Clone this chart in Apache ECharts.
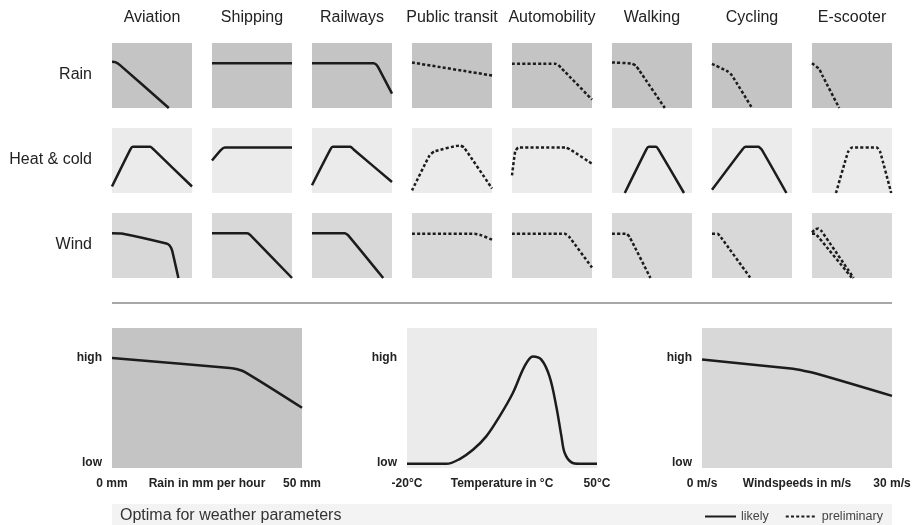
<!DOCTYPE html>
<html>
<head>
<meta charset="utf-8">
<script src="https://cdn.jsdelivr.net/npm/echarts@6/dist/echarts.min.js"></script>
<style>html,body{margin:0;padding:0;background:#fff}#c{width:915px;height:525px}</style>
</head>
<body>
<div id="c"></div>
<script>
// ---------- DATA ----------
const modes = ['Aviation','Shipping','Railways','Public transit','Automobility','Walking','Cycling','E-scooter'];
const parameters = ['Rain','Heat & cold','Wind'];

// certainty per mode, per weather parameter
const rainCertainty = ['likely','likely','likely','preliminary','preliminary','preliminary','preliminary','preliminary'];
const heatCertainty = ['likely','likely','likely','preliminary','preliminary','likely','likely','preliminary'];
const windCertainty = ['likely','likely','likely','preliminary','preliminary','preliminary','preliminary','preliminary'];

// relative suitability curves (x: 0..100 of parameter range, y: 0 low .. 100 high)
const rainCurves = [
  [[[0,71],[4,70.5],[10,66],[71,0]]],
  [[[0,69],[100,69]]],
  [[[0,69],[77,69],[80,67],[83,62],[100,22]]],
  [[[0,70],[100,50]]],
  [[[0,68],[54,68],[58,66],[62,61],[100,13]]],
  [[[0,70],[24,68.5],[30,65],[34,58],[66,0]]],
  [[[0,68],[20,56],[25,50],[50,0]]],
  [[[0,69],[9,60],[13,50],[34,0]]]
];
const heatCurves = [
  [[[0,10],[23,67],[26,71],[48,71],[52,67],[100,10]]],
  [[[0,50],[11,66],[16,70],[100,70]]],
  [[[0,12],[23,67],[26,71],[48,71],[52,67],[100,17]]],
  [[[0,4],[22,58],[28,64],[60,73],[65,70],[100,7]]],
  [[[0,27],[4,64],[8,70],[67,70],[74,66],[100,45]]],
  [[[16,0],[43,67],[46,71],[55,71],[58,67],[90,0]]],
  [[[0,5],[38,67],[42,71],[58,71],[62,67],[93,0]]],
  [[[30,0],[45,63],[50,70],[81,70],[85,64],[99,0]]]
];
const windCurves = [
  [[[0,69],[12,68.5],[68,53],[72,50],[75,43],[83,0]]],
  [[[0,69],[44,69],[48,66],[100,0]]],
  [[[0,69],[41,69],[45,66],[89,0]]],
  [[[0,68],[78,68],[86,66],[100,59]]],
  [[[0,68],[66,68],[71,64],[100,16]]],
  [[[0,68],[18,68],[22,63],[48,0]]],
  [[[0,68],[7,68],[11,63],[48,0]]],
  [[[0,68],[4,68],[8,63],[50,0]], [[0,70],[4,75],[8,76],[12,72],[52,0]]]
];

// optima curves (bottom panels)
const rainOptimum = [[0,78.5],[31,71.5],[33,70.5],[35,68.5],[50,43]];
const tempOptimum = [[-20,3],[-5.5,3],[-0.6,6.4],[4.3,13],[9.2,22.6],[14.1,36.9],[19,53.6],[23.3,72.6],[26.4,79.7],[29.5,77.4],[32.5,65.4],[35,44],[36.9,22.6],[38.1,10.7],[40.6,4],[43.6,3],[50,3]];
const windOptimum = [[0,77.5],[14,71],[16,69.5],[18,67.5],[30,51.5]];

const rainTickValues = [0,25,50];
const rainTickLabels = ['0 mm','Rain in mm per hour','50 mm'];
const tempTickValues = [-20,15,50];
const tempTickLabels = ['-20°C','Temperature in °C','50°C'];
const windTickValues = [0,15,30];
const windTickLabels = ['0 m/s','Windspeeds in m/s','30 m/s'];
const levelValues = [4,79];
const levelLabels = ['low','high'];

const footerTitle = 'Optima for weather parameters';
const legendItems = ['likely','preliminary'];

// ---------- STYLE / LAYOUT ----------
const FONT = '"Liberation Sans", Arial, Helvetica, sans-serif';
const rowColors = ['#c4c4c4','#ebebeb','#d8d8d8'];
const lineColor = '#1c1c1c';
const styleFor = c => c === 'likely'
  ? {color: lineColor, width: 2.5, type: 'solid'}
  : {color: lineColor, width: 2.5, type: [3, 2.2]};

const grids = [], xAxes = [], yAxes = [], series = [], graphics = [];
const rowData = [rainCurves, heatCurves, windCurves];
const rowCert = [rainCertainty, heatCertainty, windCertainty];

function addGrid(g, xa, ya) {
  grids.push(Object.assign({show: true, borderWidth: 0, containLabel: false}, g));
  const i = grids.length - 1;
  xAxes.push(Object.assign({gridIndex: i}, xa));
  yAxes.push(Object.assign({gridIndex: i}, ya));
  return i;
}

for (let r = 0; r < parameters.length; r++) {
  for (let c = 0; c < modes.length; c++) {
    const gi = addGrid(
      {left: 112 + 100 * c, top: 43 + 85 * r, width: 80, height: 65, backgroundColor: rowColors[r]},
      {type: 'value', min: 0, max: 100, show: false},
      {type: 'value', min: 0, max: 100, show: false}
    );
    rowData[r][c].forEach(curve => {
      series.push({
        type: 'line', name: rowCert[r][c], xAxisIndex: gi, yAxisIndex: gi,
        data: curve, symbol: 'none', smooth: 0.15, lineStyle: styleFor(rowCert[r][c]),
        itemStyle: {color: lineColor}, silent: true, animation: false
      });
    });
  }
}

const bottom = [
  {data: rainOptimum, tv: rainTickValues, tl: rainTickLabels, min: 0, max: 50, left: 112, bg: rowColors[0]},
  {data: tempOptimum, tv: tempTickValues, tl: tempTickLabels, min: -20, max: 50, left: 407, bg: rowColors[1]},
  {data: windOptimum, tv: windTickValues, tl: windTickLabels, min: 0, max: 30, left: 702, bg: rowColors[2]}
];
const axLabel = {fontFamily: FONT, fontWeight: 'bold', fontSize: 12, color: '#222'};
bottom.forEach(b => {
  const gi = addGrid(
    {left: b.left, top: 328, width: 190, height: 140, backgroundColor: b.bg},
    {type: 'value', min: b.min, max: b.max, axisLine: {show: false}, axisTick: {show: false}, splitLine: {show: false},
     axisLabel: Object.assign({customValues: b.tv, margin: 10, formatter: v => b.tl[b.tv.indexOf(v)]}, axLabel)},
    {type: 'value', min: 0, max: 100, axisLine: {show: false}, axisTick: {show: false}, splitLine: {show: false},
     axisLabel: Object.assign({customValues: levelValues, margin: 10, formatter: v => levelLabels[levelValues.indexOf(v)]}, axLabel)}
  );
  series.push({
    type: 'line', name: 'likely', xAxisIndex: gi, yAxisIndex: gi, data: b.data, symbol: 'none',
    smooth: 0.35, lineStyle: styleFor('likely'), itemStyle: {color: lineColor}, silent: true, animation: false
  });
});

// headers
modes.forEach((m, c) => graphics.push({type: 'text', x: 152 + 100 * c, y: 18,
  style: {text: m, fontFamily: FONT, fontSize: 16, fill: '#222', textAlign: 'center', textVerticalAlign: 'middle'}}));
parameters.forEach((p, r) => graphics.push({type: 'text', x: 92, y: 75 + 85 * r,
  style: {text: p, fontFamily: FONT, fontSize: 16, fill: '#222', textAlign: 'right', textVerticalAlign: 'middle'}}));
// separator
graphics.push({type: 'line', shape: {x1: 112, y1: 303, x2: 892, y2: 303}, style: {stroke: '#a8a8a8', lineWidth: 2}, silent: true});
// footer band
graphics.push({type: 'rect', shape: {x: 112, y: 504, width: 780, height: 21}, style: {fill: '#f3f3f3'}, silent: true, z: -1});
graphics.push({type: 'text', x: 120, y: 516,
  style: {text: footerTitle, fontFamily: FONT, fontSize: 16, fill: '#333', textAlign: 'left', textVerticalAlign: 'middle'}});

const chart = echarts.init(document.getElementById('c'), null, {renderer: 'canvas'});
chart.setOption({
  animation: false,
  backgroundColor: '#fff',
  grid: grids, xAxis: xAxes, yAxis: yAxes, series: series,
  legend: {data: legendItems, left: 699, top: 505, itemWidth: 31, itemHeight: 12, itemGap: 16, selectedMode: false,
    itemStyle: {opacity: 0},
    textStyle: {fontFamily: FONT, fontSize: 12.5, color: '#444'}},
  graphic: graphics
});
</script>
</body>
</html>
